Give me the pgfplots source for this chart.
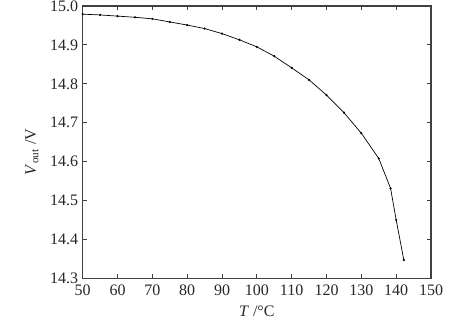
\documentclass[border=0pt]{standalone}
\usepackage{fontspec}
\setmainfont{Liberation Serif}
\usepackage{pgfplots}
\pgfplotsset{compat=1.18}
\begin{document}
\begin{tikzpicture}
\useasboundingbox (-82.7bp,-46.7bp) rectangle (389.3bp,278.3bp);
\begin{axis}[
  scale only axis,
  width=348.3bp, height=272.3bp,
  at={(0,0)}, anchor=south west,
  xmin=50, xmax=150, ymin=14.3, ymax=15.0,
  xtick={50,60,...,150},
  ytick={14.3,14.4,...,15.0},
  tick align=inside,
  major tick length=4bp,
  tick style={line width=0.9pt, color=black!75},
  axis line style={line width=1.1pt, color=black!75},
  /pgf/number format/assume math mode=true,
  yticklabel style={/pgf/number format/fixed, /pgf/number format/fixed zerofill, /pgf/number format/precision=1},
  xticklabel style={/pgf/number format/1000 sep={}},
  tick label style={font=\fontsize{16bp}{18bp}\selectfont, text=black!85},
  label style={font=\fontsize{16bp}{18bp}\selectfont, text=black!85},
  xlabel={\textit{T} /\textdegree C},
  ylabel={\textit{V}\textsubscript{out} /V},
  xlabel style={at={(axis description cs:0.5,-0.1227)}, anchor=center},
  ylabel style={at={(axis description cs:-0.1456,0.464)}, anchor=center},
  xticklabel style={yshift=-3bp},
  yticklabel style={xshift=-1bp},
]
\addplot[black, line width=0.7pt, mark=*, mark size=0.7pt] coordinates {
(50,14.979) (55,14.977) (60,14.974) (65,14.971) (70,14.967) (75,14.959)
(80,14.951) (85,14.942) (90,14.929) (95,14.913) (100,14.895) (105,14.871)
(110,14.841) (115,14.810) (120,14.771) (125,14.726) (130,14.673) (135,14.608)
(138.4,14.531) (140,14.45) (142.2,14.347)
};
\end{axis}
\end{tikzpicture}
\end{document}
